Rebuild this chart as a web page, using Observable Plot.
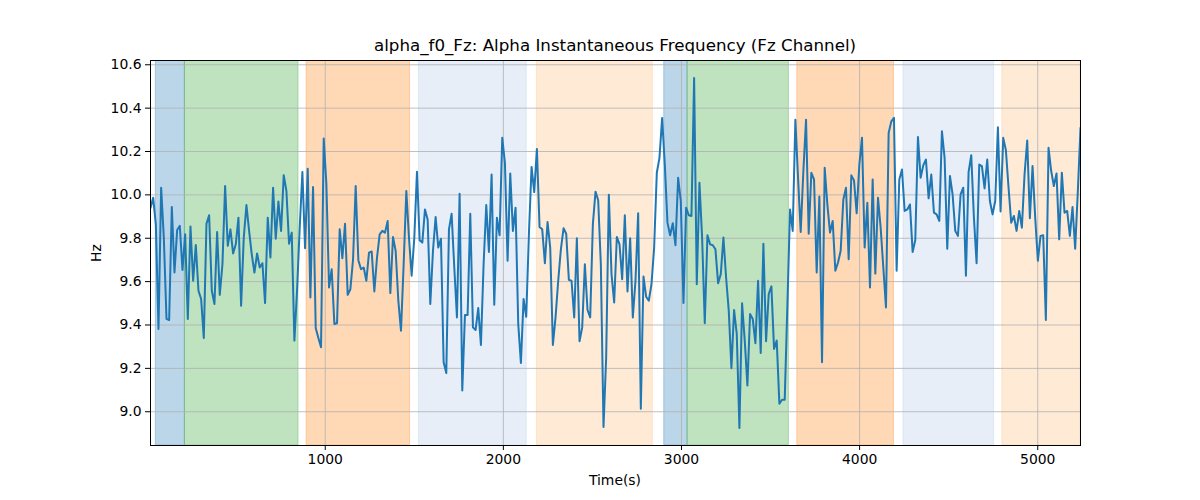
<!DOCTYPE html>
<html>
<head>
<meta charset="utf-8">
<script src="https://cdn.jsdelivr.net/npm/d3@7"></script>
<script src="https://cdn.jsdelivr.net/npm/@observablehq/plot@0.6"></script>
<style>
  body { margin: 0; background: #fff; font-family: "DejaVu Sans", sans-serif; }
  #wrap { position: relative; width: 1200px; height: 500px; }
  #chart { position: absolute; left: 0; top: 0; }
  .lbl { position: absolute; color: #000; white-space: nowrap; line-height: 1; font-family: "DejaVu Sans", sans-serif; }
</style>
</head>
<body>
<div id="wrap">
  <div id="chart"></div>
  <div class="lbl" id="title" style="left:150px;width:930px;top:37px;text-align:center;font-size:16.7px;"></div>
  <div class="lbl" id="xlabel" style="left:150px;width:930px;top:474px;text-align:center;font-size:13.9px;"></div>
  <div class="lbl" id="ylabel" style="left:97px;top:253px;font-size:13.9px;transform:translate(-50%,-50%) rotate(-90deg);"></div>
</div>
<script>
// ---- text ----
const titleText = "alpha_f0_Fz: Alpha Instantaneous Frequency (Fz Channel)";
const xLabelText = "Time(s)";
const yLabelText = "Hz";

// ---- axis ticks ----
const xTicks = [1000, 2000, 3000, 4000, 5000];
const yTicks = [9.0, 9.2, 9.4, 9.6, 9.8, 10.0, 10.2, 10.4, 10.6];

// ---- shaded segments (time, s) ----
const spanStart = [49, 212, 895, 1526, 2188, 2903, 3034, 3650, 4246, 4801];
const spanEnd   = [212, 850, 1476, 2131, 2839, 3034, 3603, 4193, 4755, 5240];
const spanKind  = ["blue", "green", "orange", "lightblue", "lightorange",
                   "blue", "green", "orange", "lightblue", "lightorange"];

// ---- sampling of the series ----
const tStart = 19;
const tStep = 14.96;

// ---- instantaneous frequency (Hz) ----
const freq = [
  9.94, 9.987, 9.864, 9.382, 10.033, 9.803, 9.428, 9.423, 9.944, 9.642,
  9.838, 9.857, 9.654, 9.818, 9.428, 9.854, 9.604, 9.769, 9.558, 9.520,
  9.340, 9.867, 9.906, 9.558, 9.497, 9.829, 9.539, 9.680, 10.041, 9.765,
  9.841, 9.730, 9.772, 9.895, 9.489, 9.803, 9.953, 9.834, 9.726, 9.642,
  9.730, 9.665, 9.685, 9.501, 9.895, 9.711, 10.033, 9.798, 9.969, 9.834,
  10.091, 10.018, 9.775, 9.826, 9.328, 9.56, 9.85, 10.105, 9.754, 10.120,
  9.527, 10.036, 9.386, 9.340, 9.297, 10.260, 10.05, 9.573, 9.657, 9.405,
  9.408, 9.841, 9.708, 9.867, 9.539, 9.565, 9.70, 10.041, 9.699, 9.657,
  9.665, 9.604, 9.734, 9.739, 9.555, 9.711, 9.818,
  9.834, 9.826, 9.880, 9.547, 9.806, 9.742, 9.512, 9.374, 9.680, 10.018,
  9.803, 9.627, 9.803, 10.107, 9.791, 9.780, 9.933, 9.887, 9.497, 9.742,
  9.898, 9.757, 9.798, 9.228, 9.178, 9.841, 9.913, 9.665, 9.435, 10.005,
  9.098, 9.446, 9.446, 9.913, 9.389, 9.377, 9.478, 9.308, 9.680, 9.953,
  9.737, 10.094, 9.493, 9.895, 9.814, 10.263, 10.148, 9.696, 10.099, 9.834,
  9.941, 9.405, 9.225, 9.520, 9.438, 9.818, 10.129, 10.013, 10.212, 9.852,
  9.841, 9.685, 9.875, 9.757, 9.308, 9.435, 9.604, 9.749, 9.846, 9.821,
  9.608, 9.604, 9.435, 9.800, 9.325, 9.389, 9.680, 9.469, 9.435, 9.864,
  10.015, 9.975, 9.680, 8.930, 9.251, 10.001,
  9.634, 9.504, 9.806, 9.772, 9.611, 9.906, 9.555, 9.800, 9.435, 9.604,
  9.915, 9.014, 9.624, 9.530, 9.512, 9.588, 9.757, 10.102, 10.171, 10.355,
  10.140, 9.872, 9.814, 9.869, 9.768, 10.079, 9.972, 9.501, 9.941, 9.906,
  9.903, 10.539, 9.588, 10.056, 9.803, 9.408, 9.814, 9.772, 9.768, 9.749,
  9.593, 9.634, 9.803, 9.619, 9.466, 9.201, 9.469, 9.359, 8.925, 9.500,
  9.328, 9.121, 9.451, 9.428, 9.316, 9.604, 9.271, 9.775, 9.325, 9.543,
  9.578, 9.290, 9.328, 9.037, 9.055, 9.055, 9.49, 9.933, 9.834, 10.347,
  10.079, 9.829, 10.110, 10.347, 9.821, 10.102, 10.071, 9.642, 9.992, 9.228,
  10.125, 9.956, 9.826, 9.880, 9.650, 9.688, 9.742,
  9.979, 10.033, 9.703, 10.090, 10.067, 9.915, 10.140, 10.263, 9.757, 9.964,
  9.573, 10.071, 9.637, 9.987, 9.849, 9.665, 9.481, 10.286, 10.339, 10.355,
  9.650, 10.071, 10.117, 9.926, 9.933, 9.956, 9.737, 9.792, 10.267, 10.079,
  10.136, 10.163, 9.984, 10.094, 9.918, 9.910, 9.880, 10.293, 10.171, 9.752,
  10.087, 10.002, 9.834, 9.811, 10.002, 10.033, 9.627, 10.105, 10.183, 9.895,
  9.685, 10.140, 10.133, 10.030, 10.163, 9.972, 9.910, 9.972, 10.312, 9.923,
  10.263, 10.206, 10.033, 9.872, 9.903, 9.834, 9.926, 9.849, 10.094, 10.251,
  9.892, 10.133, 9.895, 9.696, 9.811, 9.814, 9.423, 10.217, 10.110, 10.041,
  10.099, 9.795, 10.102, 9.918, 9.926, 9.811, 9.944, 9.752, 10.018, 10.309
];

// ---- build tables ----
const palette = {
  blue: "#1f77b4", green: "#2ca02c", orange: "#ff7f0e",
  lightblue: "#aec7e8", lightorange: "#ffbb78"
};
const spans = spanStart.map((s, i) => ({x1: s, x2: spanEnd[i], c: palette[spanKind[i]]}));
const series = freq.map((v, i) => ({t: tStart + i * tStep, v}));

const yMin = d3.min(freq), yMax = d3.max(freq), pad = (yMax - yMin) * 0.05;
const xMin = d3.min(series, d => d.t), xMax = d3.max(series, d => d.t);

const chart = Plot.plot({
  width: 1200,
  height: 500,
  marginLeft: 150,
  marginRight: 120,
  marginTop: 60,
  marginBottom: 55,
  style: {fontFamily: "DejaVu Sans, sans-serif", fontSize: "13.9px", color: "#000", background: "#fff"},
  x: {domain: [xMin, 5240]},
  y: {domain: [yMin - pad, yMax + pad]},
  marks: [
    Plot.rect(spans, {x1: "x1", x2: "x2", fill: "c", fillOpacity: 0.3, stroke: "c", strokeOpacity: 0.3, strokeWidth: 1, clip: true}),
    Plot.gridX(xTicks, {stroke: "#b0b0b0", strokeOpacity: 1, strokeWidth: 0.8}),
    Plot.gridY(yTicks, {stroke: "#b0b0b0", strokeOpacity: 1, strokeWidth: 0.8}),
    Plot.line(series, {x: "t", y: "v", stroke: "#1f77b4", strokeWidth: 2, clip: true}),
    Plot.frame({stroke: "#000", strokeWidth: 1}),
    Plot.axisX({ticks: xTicks, tickFormat: d3.format("d"), tickSize: 5, tickPadding: 4, label: null, fontSize: 13.9}),
    Plot.axisY({ticks: yTicks, tickFormat: d3.format(".1f"), tickSize: 5, tickPadding: 4, label: null, fontSize: 13.9})
  ]
});
document.getElementById("chart").appendChild(chart);
document.getElementById("title").textContent = titleText;
document.getElementById("xlabel").textContent = xLabelText;
document.getElementById("ylabel").textContent = yLabelText;
</script>
</body>
</html>
